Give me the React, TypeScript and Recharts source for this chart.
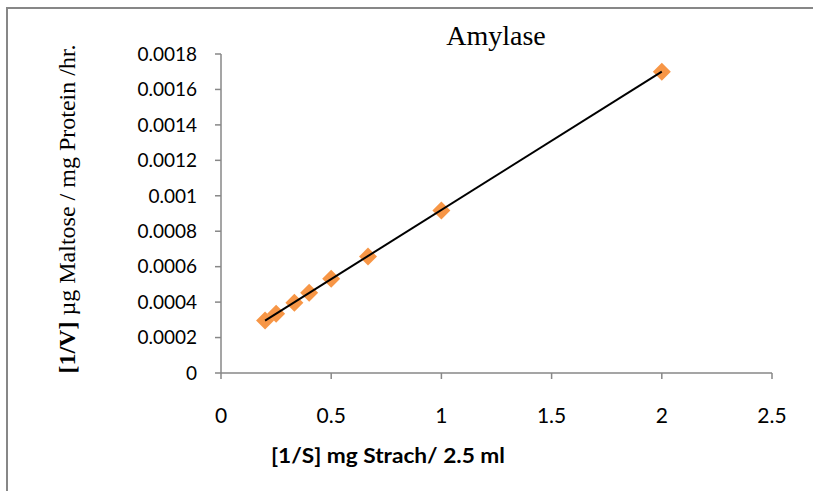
import React from 'react';
import { ScatterChart, Scatter, XAxis, YAxis, Label } from 'recharts';

// 1/S values (x) and 1/V values (y)
const invS = [0.2, 0.25, 0.333, 0.4, 0.5, 0.667, 1, 2];
const invV = [0.000296, 0.000334, 0.000396, 0.000453, 0.000532, 0.000657, 0.000917, 0.0017];

// linear trendline end points
const trendX = [0.2, 2];
const trendY = [0.000296, 0.0017];

const xTicks = [0, 0.5, 1, 1.5, 2, 2.5];
const yTicks = [0, 0.0002, 0.0004, 0.0006, 0.0008, 0.001, 0.0012, 0.0014, 0.0016, 0.0018];

const points = invS.map((x, i) => ({ x, y: invV[i] }));
const trend = trendX.map((x, i) => ({ x, y: trendY[i] }));

const AXIS = '#878787';
const TICK_FONT = 'Lato, "Open Sans", sans-serif';
const SERIF = '"Liberation Serif", "Times New Roman", serif';

const Diamond = (props: any) => {
  const { cx, cy } = props;
  const r = 9;
  return (
    <polygon
      points={`${cx},${cy - r} ${cx + r},${cy} ${cx},${cy + r} ${cx - r},${cy}`}
      fill="#F79646"
    />
  );
};

const NoDot = () => <g />;

// chart frame: only the left and top edges show in the picture
const Frame = () => (
  <path d="M7,491 L7,8 L813,8" fill="none" stroke={AXIS} strokeWidth={2} />
);

export default function App() {
  return (
    <div
      style={{
        position: 'absolute',
        left: 0,
        top: 0,
        width: 813,
        height: 491,
        background: '#fff',
        overflow: 'hidden',
      }}
    >
      <ScatterChart
        width={813}
        height={491}
        margin={{ top: 54, right: 41, bottom: 58, left: 0 }}
        style={{ position: 'absolute', left: 0, top: 0 }}
      >
        <Frame />
        <XAxis
          type="number"
          dataKey="x"
          domain={[0, 2.5]}
          ticks={xTicks}
          interval={0}
          height={60}
          stroke={AXIS}
          strokeWidth={1.5}
          tickSize={6}
          tickMargin={29}
          tick={{ fill: '#000', fontSize: 21, fontFamily: TICK_FONT }}
        >
          <Label
            content={() => (
              <text
                x={271}
                y={463}
                textLength={234}
                lengthAdjust="spacingAndGlyphs"
                fontFamily={TICK_FONT}
                fontWeight="bold"
                fontSize={20}
                fill="#000"
              >
                [1/S] mg Strach/ 2.5 ml
              </text>
            )}
          />
        </XAxis>
        <YAxis
          type="number"
          dataKey="y"
          domain={[0, 0.0018]}
          ticks={yTicks}
          interval={0}
          width={221}
          stroke={AXIS}
          strokeWidth={1.5}
          tickSize={6}
          tickMargin={18}
          tick={{ fill: '#000', fontSize: 19, fontFamily: TICK_FONT }}
        >
          <Label
            content={() => (
              <text
                x={0}
                y={0}
                transform="translate(75,209) rotate(-90)"
                textAnchor="middle"
                fontFamily={SERIF}
                fontSize={24}
                fill="#000"
              >
                <tspan fontWeight="bold">[1/V]</tspan> µg Maltose / mg Protein /hr.
              </text>
            )}
          />
        </YAxis>
        <Scatter data={points} shape={Diamond} isAnimationActive={false} />
        <Scatter
          data={trend}
          line={{ stroke: '#000', strokeWidth: 2 }}
          shape={NoDot}
          isAnimationActive={false}
        />
        <text x={496} y={45} textAnchor="middle" fontFamily={SERIF} fontSize={28} fill="#000">
          Amylase
        </text>
      </ScatterChart>
    </div>
  );
}
